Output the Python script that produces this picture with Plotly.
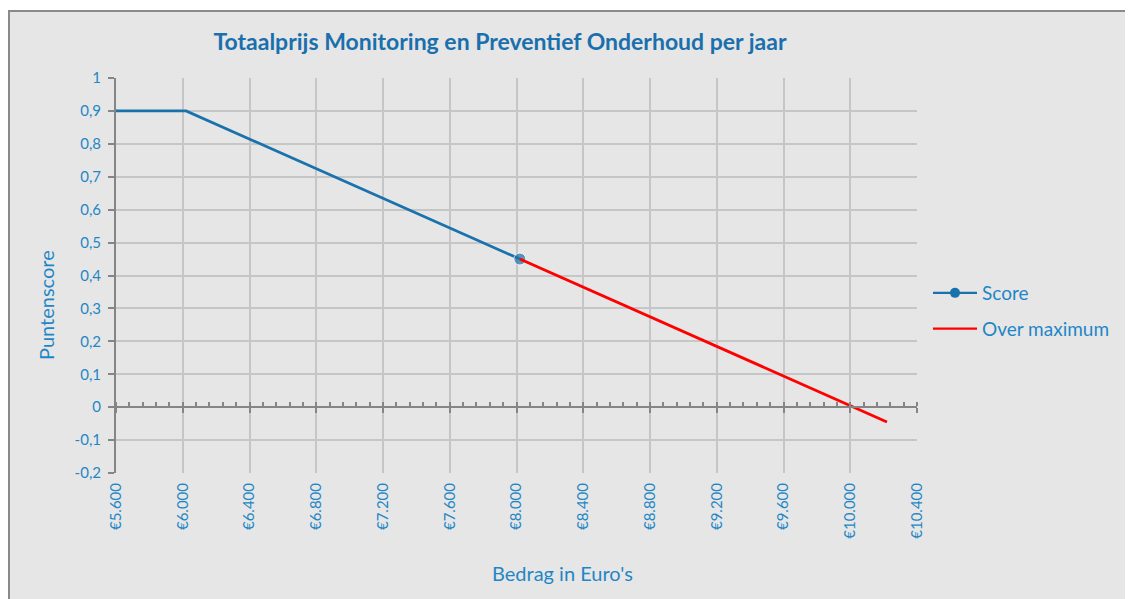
import plotly.graph_objects as go

# Data
score_x = [5600, 6020, 8020]
score_y = [0.9, 0.9, 0.45]
over_x = [8020, 10220]
over_y = [0.45, -0.045]

x_tickvals = [5600, 6000, 6400, 6800, 7200, 7600, 8000, 8400, 8800, 9200, 9600, 10000, 10400]
x_ticktext = ["€5.600", "€6.000", "€6.400", "€6.800", "€7.200", "€7.600", "€8.000",
              "€8.400", "€8.800", "€9.200", "€9.600", "€10.000", "€10.400"]
y_tickvals = [1, 0.9, 0.8, 0.7, 0.6, 0.5, 0.4, 0.3, 0.2, 0.1, 0, -0.1, -0.2]
y_ticktext = ["1", "0,9", "0,8", "0,7", "0,6", "0,5", "0,4", "0,3", "0,2", "0,1", "0", "-0,1", "-0,2"]

title_text = "Totaalprijs Monitoring en Preventief Onderhoud per jaar"
FONT = "Lato, 'Open Sans', sans-serif"
TITLE_BLUE = "#1a6fad"
TEXT_BLUE = "#1f86c6"
LINE_BLUE = "#1a72ad"
RED = "#ff0000"

W, H = 1133, 599
OFF = 8  # page body margin
L, R, T, B = 116 - OFF, 917 - OFF, 78 - OFF, 473 - OFF


def px_x(p):
    return (p - OFF - L) / (R - L)


def px_y(p):
    return (B - (p - OFF)) / (B - T)


fig = go.Figure()
fig.add_trace(go.Scatter(
    x=score_x, y=score_y, name="Score", mode="lines+markers", showlegend=False,
    line=dict(color=LINE_BLUE, width=2.8),
    marker=dict(color=LINE_BLUE, size=[0, 0, 12]),
))
fig.add_trace(go.Scatter(
    x=over_x, y=over_y, name="Over maximum", mode="lines", showlegend=False,
    line=dict(color=RED, width=2.8),
))
# legend entries (no data drawn)
fig.add_trace(go.Scatter(x=[None], y=[None], name="Score", mode="lines+markers",
                         legendgroup="a", line=dict(color=LINE_BLUE, width=2.2),
                         marker=dict(color=LINE_BLUE, size=10)))
fig.add_trace(go.Scatter(x=[None], y=[None], name="Over maximum", mode="lines",
                         legendgroup="b", line=dict(color=RED, width=2.2)))
# zero-crossing axis carrier (invisible trace)
fig.add_trace(go.Scatter(x=[5600, 10400], y=[None, None], xaxis="x2", showlegend=False,
                         hoverinfo="skip"))

fig.update_layout(
    width=W, height=H,
    margin=dict(l=L, r=W - R, t=T, b=H - B, pad=0),
    paper_bgcolor="white",
    plot_bgcolor="rgba(0,0,0,0)",
    font=dict(family=FONT, color=TEXT_BLUE, size=15),
    title=dict(text="<b>" + title_text + "</b>", x=(500 - OFF) / W, xanchor="center",
               y=1 - (42 - OFF) / H, yanchor="middle", yref="container",
               font=dict(family=FONT, size=23, color=TITLE_BLUE)),
    xaxis=dict(range=[5600, 10400], tickvals=x_tickvals, ticktext=x_ticktext,
               tickangle=-90, showgrid=True, gridcolor="#c6c6c6", gridwidth=1.5,
               zeroline=False, showline=False, ticks="",
               tickfont=dict(size=15, color=TEXT_BLUE), ticklabelstandoff=6),
    xaxis2=dict(range=[5600, 10400], overlaying="x", anchor="free", position=1 / 6,
                side="bottom", showgrid=False, zeroline=False, showline=True,
                linecolor="#858585", linewidth=2, showticklabels=False,
                tickmode="linear", tick0=5600, dtick=400, ticks="outside",
                ticklen=5, tickwidth=2, tickcolor="#858585",
                minor=dict(tickmode="linear", tick0=5600, dtick=80, ticks="inside",
                           ticklen=4, tickwidth=1.5, tickcolor="#858585", showgrid=False)),
    yaxis=dict(range=[-0.2, 1], tickvals=y_tickvals, ticktext=y_ticktext,
               showgrid=True, gridcolor="#c6c6c6", gridwidth=1.5, zeroline=False,
               showline=True, linecolor="#858585", linewidth=2,
               ticks="outside", ticklen=6, tickwidth=2, tickcolor="#858585",
               tickfont=dict(size=15, color=TEXT_BLUE), ticklabelstandoff=4),
    legend=dict(x=px_x(928), y=px_y(274), xanchor="left", yanchor="top",
                bgcolor="rgba(0,0,0,0)", font=dict(size=19, color=TEXT_BLUE),
                traceorder="grouped", tracegroupgap=8, itemwidth=44),
    showlegend=True,
    shapes=[dict(type="rect", xref="paper", yref="paper",
                 x0=px_x(9), x1=px_x(1150), y0=px_y(620), y1=px_y(11),
                 fillcolor="#e6e6e6", line=dict(color="#8a8a8a", width=2),
                 layer="below")],
    annotations=[
        dict(text="Puntenscore", xref="paper", yref="paper", x=px_x(46), y=px_y(305),
             textangle=-90, showarrow=False, font=dict(size=20, color=TEXT_BLUE),
             xanchor="center", yanchor="middle"),
        dict(text="Bedrag in Euro's", xref="paper", yref="paper", x=px_x(562), y=px_y(573),
             showarrow=False, font=dict(size=20, color=TEXT_BLUE),
             xanchor="center", yanchor="middle"),
    ],
)

fig.write_html("out.html")
